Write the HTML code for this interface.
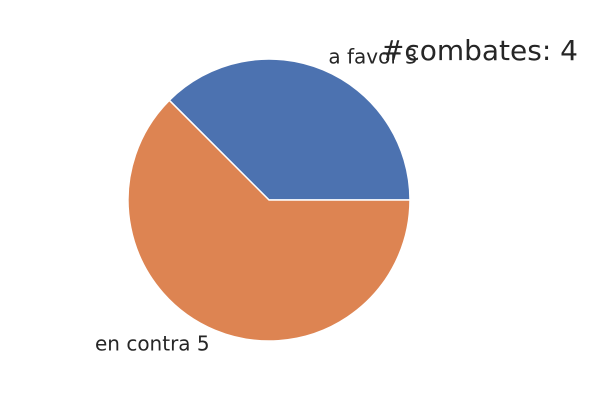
<!DOCTYPE html>
<html><head><meta charset="utf-8"><style>
html,body{margin:0;padding:0;background:#fff;}
svg{display:block;font-family:"DejaVu Sans","Liberation Sans",sans-serif;}
</style></head><body>
<svg id="chart" width="600" height="400">
<text x="578" y="60" text-anchor="end" font-size="28" fill="#262626">#combates: 4</text>
<g id="slices"></g>
</svg>
<script>
const labels = ["a favor", "en contra"];
const values = [3, 5];
const colors = ["#4c72b0", "#dd8452"];
const cx = 269, cy = 200, r = 141;
const g = document.getElementById('slices');
const svg = document.getElementById('chart');
const total = values.reduce((a,b)=>a+b,0);
let start = 0;
values.forEach((v,i)=>{
  const sweep = v/total*360;
  const a0 = start*Math.PI/180, a1 = (start+sweep)*Math.PI/180;
  const x0 = cx + r*Math.cos(a0), y0 = cy - r*Math.sin(a0);
  const x1 = cx + r*Math.cos(a1), y1 = cy - r*Math.sin(a1);
  const large = sweep > 180 ? 1 : 0;
  const p = document.createElementNS('http://www.w3.org/2000/svg','path');
  p.setAttribute('d', `M${cx},${cy} L${x0},${y0} A${r},${r} 0 ${large} 0 ${x1},${y1} Z`);
  p.setAttribute('fill', colors[i]);
  p.setAttribute('stroke', '#fff');
  p.setAttribute('stroke-width', '1.5');
  
  
  g.appendChild(p);
  const mid = (start + sweep/2)*Math.PI/180;
  const lx = cx + 1.1*r*Math.cos(mid), ly = cy - 1.1*r*Math.sin(mid);
  const t = document.createElementNS('http://www.w3.org/2000/svg','text');
  t.setAttribute('x', lx);
  t.setAttribute('y', ly + 7);
  t.setAttribute('font-size', '20');
  t.setAttribute('fill', '#262626');
  t.setAttribute('text-anchor', Math.cos(mid) >= 0 ? 'start' : 'end');
  t.textContent = labels[i] + ' ' + v;
  
  
  svg.appendChild(t);
  start += sweep;
});
</script>
</body></html>
